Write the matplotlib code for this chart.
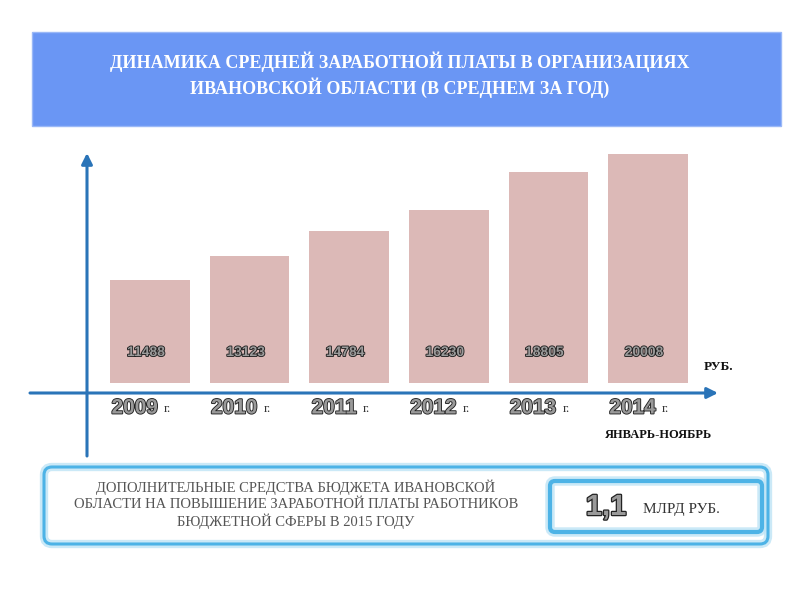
import matplotlib
matplotlib.use('Agg')
import matplotlib.pyplot as plt
import matplotlib.patheffects as pe
from matplotlib.patches import Rectangle, FancyBboxPatch

# ---- data ----
years = ['2009', '2010', '2011', '2012', '2013', '2014']
wages = [11488, 13123, 14784, 16230, 18805, 20008]
year_suffix = 'г.'
title_lines = ['ДИНАМИКА СРЕДНЕЙ ЗАРАБОТНОЙ ПЛАТЫ В ОРГАНИЗАЦИЯХ',
               'ИВАНОВСКОЙ ОБЛАСТИ (В СРЕДНЕМ ЗА ГОД)']
unit_label = 'РУБ.'
period_note = 'ЯНВАРЬ-НОЯБРЬ'
budget_lines = ['ДОПОЛНИТЕЛЬНЫЕ СРЕДСТВА БЮДЖЕТА ИВАНОВСКОЙ',
                'ОБЛАСТИ НА ПОВЫШЕНИЕ ЗАРАБОТНОЙ ПЛАТЫ РАБОТНИКОВ',
                'БЮДЖЕТНОЙ СФЕРЫ В 2015 ГОДУ']
budget_value = '1,1'
budget_unit = 'МЛРД РУБ.'

base = 4500          # visual baseline of the bars
axis_blue = '#2a74b8'
bar_color = '#dcb9b7'
box_blue = '#4db3e6'

outline = [pe.withStroke(linewidth=1.3, foreground='#222222')]

fig = plt.figure(figsize=(8, 6), dpi=100)
fig.patch.set_facecolor('white')

bg = fig.add_axes([0, 0, 1, 1])
bg.set_xlim(0, 800)
bg.set_ylim(600, 0)
bg.axis('off')

# title banner
bg.add_patch(Rectangle((32, 32), 749, 94, facecolor='#6a96f4',
                       edgecolor='#9ab8f7', lw=1))
for i, line in enumerate(title_lines):
    bg.text(400, 62 + i * 26, line, ha='center', va='center', color='white',
            fontsize=13, fontfamily='Liberation Serif', fontweight='bold')

# chart axes
ax = fig.add_axes([87 / 800, (600 - 393) / 600, 628 / 800, 243 / 600])
ax.set_xlim(-0.633, 5.673)
ax.set_ylim(3822, 20308)
ax.axis('off')
ax.patch.set_alpha(0)

x = list(range(len(years)))
ax.bar(x, [w - base for w in wages], bottom=base, width=0.8,
       color=bar_color, edgecolor='none')

for i, (yr, w) in enumerate(zip(years, wages)):
    ax.annotate(f'{w}', xy=(i, base), xytext=(-4, 31), textcoords='offset pixels',
                ha='center', va='center', fontsize=10, fontweight='bold',
                fontfamily='Liberation Sans', color='#9a9a9a',
                path_effects=outline)
    ax.annotate(yr, xy=(i, 0), xycoords=('data', 'axes fraction'),
                xytext=(8, -15), textcoords='offset pixels',
                ha='right', va='center', fontsize=15, fontweight='bold',
                fontfamily='Liberation Sans', color='#9a9a9a',
                path_effects=outline)
    ax.annotate(year_suffix, xy=(i, 0), xycoords=('data', 'axes fraction'),
                xytext=(14, -16), textcoords='offset pixels',
                ha='left', va='center', fontsize=9.5,
                fontfamily='Liberation Serif', color='#333333')

# axis arrows
bg.annotate('', xy=(87, 153), xytext=(87, 456),
            arrowprops=dict(arrowstyle='-|>', color=axis_blue, lw=2.2,
                            mutation_scale=16, shrinkA=0, shrinkB=0))
bg.annotate('', xy=(718, 393), xytext=(30, 393),
            arrowprops=dict(arrowstyle='-|>', color=axis_blue, lw=2.2,
                            mutation_scale=16, shrinkA=0, shrinkB=0))

bg.text(719, 367, unit_label, ha='center', va='center', fontsize=9.5,
        fontweight='bold', fontfamily='Liberation Serif', color='#111111')
bg.text(659, 435, period_note, ha='center', va='center', fontsize=9,
        fontweight='bold', fontfamily='Liberation Serif', color='#111111')

# bottom box
bg.add_patch(FancyBboxPatch((44, 467), 724, 77,
                            boxstyle='round,pad=0,rounding_size=8',
                            facecolor='white', edgecolor='none', zorder=0))
for lw, col, a in [(6, '#bfe4f6', 0.8), (2.2, box_blue, 1.0)]:
    bg.add_patch(FancyBboxPatch((44, 467), 724, 77,
                                boxstyle='round,pad=0,rounding_size=8',
                                facecolor='none', edgecolor=col, lw=lw, alpha=a))
    bg.add_patch(FancyBboxPatch((550, 481), 212, 51,
                                boxstyle='round,pad=0,rounding_size=5',
                                facecolor='none', edgecolor=col, lw=lw + 0.8,
                                alpha=a))

for i, line in enumerate(budget_lines):
    bg.text(296, 487 + i * 17, line, ha='center', va='center', fontsize=10.5,
            fontfamily='Liberation Serif', color='#555555')

bg.text(606, 507, budget_value, ha='center', va='center', fontsize=21,
        fontweight='bold', fontfamily='Liberation Sans', color='#9a9a9a',
        path_effects=[pe.withStroke(linewidth=1.8, foreground='#222222')])
bg.text(681, 509, budget_unit, ha='center', va='center', fontsize=11,
        fontfamily='Liberation Serif', color='#333333')

fig.savefig('out.png', dpi=100, facecolor='white')
